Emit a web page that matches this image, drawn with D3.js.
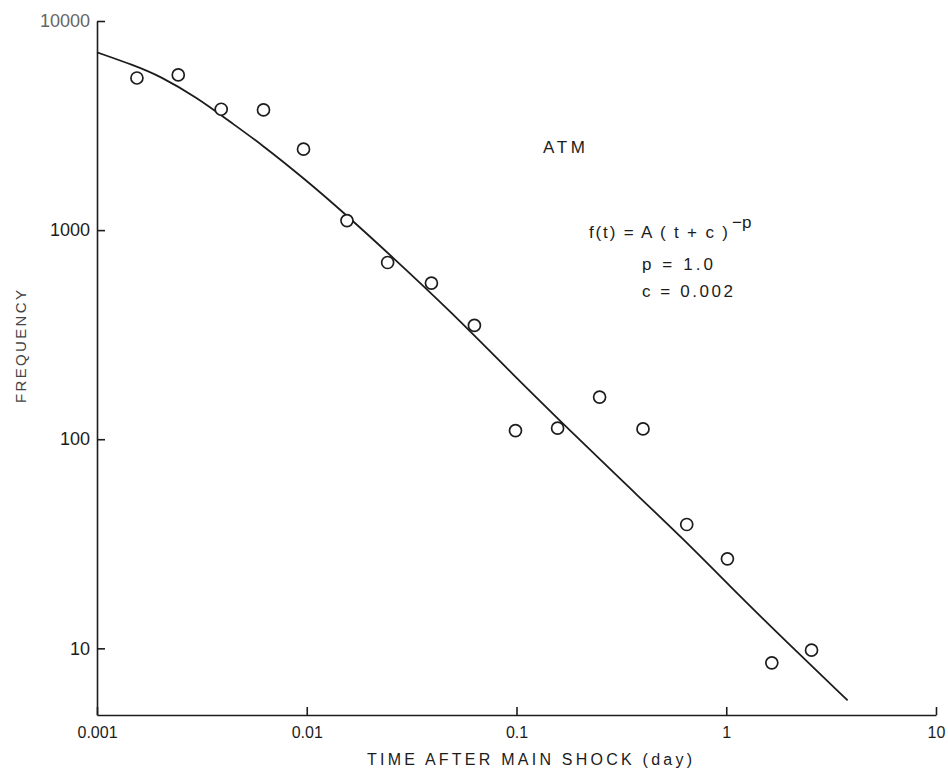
<!DOCTYPE html>
<html lang="en">
<head>
<meta charset="UTF-8">
<title>ATM aftershock frequency</title>
<style>
  body { margin: 0; background: #fff; }
  svg text { font-family: "Liberation Sans", Arial, sans-serif; fill: #1c1c1c; }
</style>
</head>
<body>
<div id="chart"></div>
<script src="https://cdn.jsdelivr.net/npm/d3@7"></script>
<script>
// tick values and labels
const xTicks = [0.001, 0.01, 0.1, 1, 10];
const xTickLabels = ["0.001", "0.01", "0.1", "1", "10"];
const yTicks = [10, 100, 1000, 10000];
const yTickLabels = ["10", "100", "1000", "10000"];

// observed points (time in days, frequency)
const times = [0.00155, 0.00244, 0.00391, 0.00622, 0.00965, 0.01555, 0.0243, 0.0393, 0.0630,
               0.0989, 0.157, 0.249, 0.401, 0.648, 1.013, 1.649, 2.55];
const freqs = [5340, 5520, 3785, 3757, 2438, 1111, 700, 558, 350,
               110, 113, 159, 112, 39.1, 26.8, 8.53, 9.8];

// fitted curve
const curveT = [0.001, 0.0015, 0.002, 0.003, 0.0043, 0.006, 0.01, 0.0156, 0.025, 0.0484,
                0.1, 0.162, 0.3, 0.652, 1.0, 2.0, 3.79];
const curveF = [7080, 6140, 5450, 4300, 3300, 2600, 1725, 1170, 760, 410,
                196, 122, 67, 32, 20.6, 10.4, 5.64];

const W = 948, H = 776;
const margin = {top: 21, right: 12, bottom: 61, left: 97},
      width = W - margin.left - margin.right,
      height = H - margin.top - margin.bottom;

const svg = d3.select("#chart").append("svg")
    .attr("width", W)
    .attr("height", H);

const g = svg.append("g")
    .attr("transform", `translate(${margin.left},${margin.top})`);

const x = d3.scaleLog().domain([0.001, 10]).range([0, width]);
const y = d3.scaleLog().domain([4.8, 10000]).range([height, 0]);

// axes
const yAxis = g.append("g")
    .call(d3.axisLeft(y)
        .tickValues(yTicks)
        .tickFormat((d, i) => yTickLabels[i])
        .tickSize(-8)
        .tickSizeOuter(0)
        .tickPadding(7));
yAxis.selectAll("text").attr("font-size", 18).attr("font-family", "Liberation Sans, sans-serif");
yAxis.selectAll("text").filter((d) => d === 10000).style("fill", "#666");

const xAxis = g.append("g")
    .attr("transform", `translate(0,${height})`)
    .call(d3.axisBottom(x)
        .tickValues(xTicks)
        .tickFormat((d, i) => xTickLabels[i])
        .tickSize(-8)
        .tickSizeOuter(0)
        .tickPadding(12));
xAxis.selectAll("text").attr("font-size", 16).attr("font-family", "Liberation Sans, sans-serif");

g.selectAll(".domain, .tick line").attr("stroke", "#1c1c1c").attr("stroke-width", 1.6);

// fitted curve
const pts = curveT.map((t, i) => [t, curveF[i]]);
g.append("path")
    .datum(pts)
    .attr("fill", "none")
    .attr("stroke", "#1c1c1c")
    .attr("stroke-width", 1.8)
    .attr("d", d3.line()
        .x(d => x(d[0]))
        .y(d => y(d[1]))
        .curve(d3.curveBasis));

// observations
g.selectAll("circle")
    .data(times.map((t, i) => [t, freqs[i]]))
    .join("circle")
    .attr("cx", d => x(d[0]))
    .attr("cy", d => y(d[1]))
    .attr("r", 6)
    .attr("fill", "#fff")
    .attr("stroke", "#1c1c1c")
    .attr("stroke-width", 1.7);

// axis titles
svg.append("text")
    .attr("x", 367)
    .attr("y", 765)
    .attr("font-size", 16)
    .attr("textLength", 325)
    .attr("lengthAdjust", "spacing")
    .text("TIME AFTER MAIN SHOCK (day)");

svg.append("text")
    .attr("transform", "translate(26,403) rotate(-90)")
    .attr("font-size", 15)
    .attr("textLength", 113)
    .attr("lengthAdjust", "spacing")
    .style("fill", "#444")
    .text("FREQUENCY");

// annotations
svg.append("text")
    .attr("x", 543).attr("y", 153)
    .attr("font-size", 17)
    .attr("textLength", 42)
    .attr("lengthAdjust", "spacing")
    .text("ATM");

svg.append("text")
    .attr("x", 589).attr("y", 238)
    .attr("font-size", 17)
    .attr("textLength", 139)
    .attr("lengthAdjust", "spacing")
    .text("f(t) = A ( t + c )");

svg.append("text")
    .attr("x", 732).attr("y", 228)
    .attr("font-size", 17)
    .text("\u2212p");

svg.append("text")
    .attr("x", 642).attr("y", 270)
    .attr("font-size", 17)
    .attr("textLength", 71)
    .attr("lengthAdjust", "spacing")
    .text("p = 1.0");

svg.append("text")
    .attr("x", 642).attr("y", 297)
    .attr("font-size", 17)
    .attr("textLength", 91)
    .attr("lengthAdjust", "spacing")
    .text("c = 0.002");
</script>
</body>
</html>
